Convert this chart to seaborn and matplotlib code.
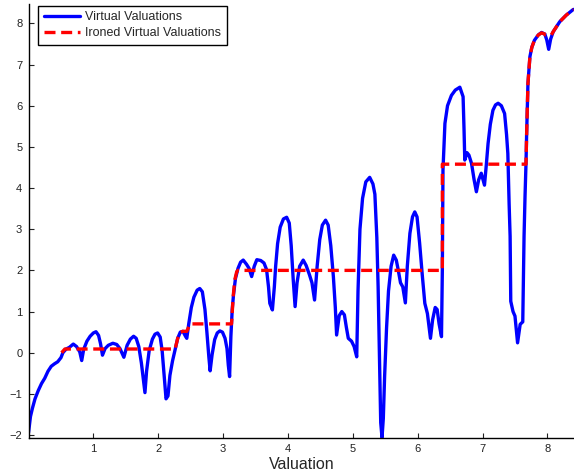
import matplotlib
matplotlib.use('Agg')
import matplotlib.pyplot as plt
import pandas as pd
import seaborn as sns

# virtual valuations (blue)
vv_x = [0.00, 0.03, 0.06, 0.10, 0.15, 0.20, 0.25, 0.30, 0.35, 0.40, 0.45, 0.50, 0.53, 0.58, 0.63,
        0.69, 0.74, 0.79, 0.82, 0.85, 0.90, 0.95, 1.00, 1.04, 1.08, 1.11, 1.14, 1.18, 1.23, 1.30,
        1.36, 1.41, 1.47, 1.52, 1.57, 1.62, 1.66, 1.70, 1.74, 1.77, 1.795, 1.82, 1.86, 1.91, 1.95,
        1.99, 2.03, 2.06, 2.09, 2.12, 2.15, 2.18, 2.22, 2.26, 2.30, 2.34, 2.38, 2.42, 2.44, 2.47,
        2.51, 2.55, 2.60, 2.64, 2.68, 2.72, 2.75, 2.78, 2.80, 2.83, 2.87, 2.91, 2.95, 2.99, 3.03,
        3.06, 3.08, 3.10, 3.12, 3.14, 3.16, 3.19, 3.23, 3.27, 3.31, 3.36, 3.40, 3.44, 3.48, 3.52,
        3.58, 3.63, 3.67, 3.70, 3.72, 3.76, 3.79, 3.81, 3.84, 3.88, 3.93, 3.98, 4.02, 4.05, 4.08,
        4.11, 4.14, 4.18, 4.235, 4.28, 4.33, 4.37, 4.41, 4.45, 4.49, 4.53, 4.58, 4.62, 4.66, 4.70,
        4.73, 4.75, 4.79, 4.83, 4.87, 4.90, 4.93, 4.98, 5.02, 5.06, 5.08, 5.11, 5.15, 5.20, 5.26,
        5.31, 5.34, 5.37, 5.39, 5.41, 5.43, 5.45, 5.47, 5.49, 5.52, 5.55, 5.59, 5.63, 5.67, 5.70,
        5.735, 5.77, 5.81, 5.84, 5.88, 5.92, 5.955, 5.99, 6.03, 6.07, 6.11, 6.15, 6.197, 6.23, 6.27,
        6.30, 6.33, 6.367, 6.38, 6.39, 6.42, 6.46, 6.52, 6.58, 6.65, 6.70, 6.715, 6.726, 6.76, 6.79,
        6.83, 6.87, 6.905, 6.94, 6.98, 7.03, 7.06, 7.085, 7.12, 7.16, 7.20, 7.24, 7.29, 7.34, 7.37,
        7.39, 7.41, 7.425, 7.435, 7.47, 7.50, 7.54, 7.58, 7.62, 7.64, 7.655, 7.67, 7.68, 7.70, 7.73,
        7.76, 7.80, 7.86, 7.91, 7.96, 7.99, 8.02, 8.05, 8.09, 8.19, 8.29, 8.40]
vv_y = [-1.94, -1.55, -1.35, -1.12, -0.92, -0.75, -0.62, -0.45, -0.33, -0.27, -0.22, -0.12, 0.00, 0.09, 0.13,
        0.21, 0.15, 0.02, -0.19, 0.08, 0.28, 0.40, 0.48, 0.51, 0.42, 0.22, -0.06, 0.10, 0.18, 0.23,
        0.20, 0.10, -0.11, 0.18, 0.33, 0.40, 0.35, 0.15, -0.25, -0.65, -0.97, -0.45, 0.05, 0.33, 0.45,
        0.48, 0.38, 0.05, -0.55, -1.12, -1.05, -0.55, -0.20, 0.08, 0.35, 0.50, 0.52, 0.40, 0.35, 0.70,
        1.10, 1.35, 1.52, 1.56, 1.48, 1.05, 0.50, -0.10, -0.44, -0.05, 0.32, 0.48, 0.53, 0.50, 0.35,
        0.10, -0.30, -0.58, 0.40, 1.04, 1.40, 1.80, 2.05, 2.20, 2.25, 2.15, 2.05, 1.85, 2.10, 2.26,
        2.24, 2.18, 2.02, 1.60, 1.20, 1.04, 1.60, 2.10, 2.65, 3.05, 3.25, 3.29, 3.15, 2.60, 1.80,
        1.12, 1.70, 2.10, 2.25, 2.12, 1.90, 1.70, 1.28, 2.10, 2.75, 3.10, 3.22, 3.10, 2.60, 1.85,
        1.10, 0.43, 0.90, 1.00, 0.92, 0.62, 0.35, 0.28, 0.15, -0.10, 1.50, 3.00, 3.75, 4.15, 4.26,
        4.10, 3.85, 2.80, 1.60, 0.00, -1.70, -2.06, -1.60, -0.58, 0.60, 1.50, 2.10, 2.37, 2.25, 2.01,
        1.70, 1.60, 1.21, 2.10, 2.90, 3.30, 3.42, 3.30, 2.66, 1.90, 1.20, 0.95, 0.35, 0.80, 1.10,
        1.05, 0.70, 0.39, 2.00, 4.44, 5.57, 6.00, 6.25, 6.38, 6.45, 6.22, 5.40, 4.68, 4.86, 4.80,
        4.60, 4.20, 3.91, 4.20, 4.36, 4.07, 4.60, 5.08, 5.55, 5.89, 6.02, 6.06, 6.00, 5.81, 5.30,
        4.84, 3.60, 2.83, 1.25, 1.00, 0.89, 0.24, 0.69, 0.75, 2.83, 3.80, 4.60, 5.33, 6.54, 7.19,
        7.42, 7.59, 7.72, 7.78, 7.74, 7.60, 7.37, 7.62, 7.80, 8.04, 8.20, 8.34]

# ironed virtual valuations (red dashed)
iv_x = [0.51, 0.56, 2.26, 2.30, 2.34, 2.38, 2.44, 2.49, 3.13, 3.155, 3.18, 3.21, 3.23, 6.38, 6.38,
        7.67, 7.68, 7.70, 7.73, 7.76, 7.80, 7.86, 7.91, 7.96, 7.97, 8.06, 8.09, 8.19, 8.29, 8.40]
iv_y = [0.00, 0.09, 0.09, 0.35, 0.50, 0.52, 0.52, 0.70, 0.70, 1.36, 1.77, 1.97, 2.00, 2.00, 4.58,
        4.58, 5.33, 6.54, 7.19, 7.42, 7.59, 7.72, 7.77, 7.74, 7.72, 7.72, 7.80, 8.04, 8.20, 8.34]

sns.set_style('ticks')
plt.rcParams['font.family'] = ['Liberation Sans', 'DejaVu Sans']

fig = plt.figure(figsize=(5.74, 4.76), dpi=100)
ax = fig.add_axes([0.0497, 0.0805, 0.9503, 0.911])

vv = pd.DataFrame({'x': vv_x, 'y': vv_y})
iv = pd.DataFrame({'x': iv_x, 'y': iv_y})
sns.lineplot(data=vv, x='x', y='y', color='#0000ff', linewidth=2.4, estimator=None, sort=False,
             label='Virtual Valuations', ax=ax)
sns.lineplot(data=iv, x='x', y='y', color='#ff0000', linewidth=2.4, estimator=None, sort=False,
             linestyle=(0, (3.3, 1.7)), label='Ironed Virtual Valuations', ax=ax)

ax.set_xlim(0, 8.41)
ax.set_ylim(-2.064, 8.47)
ax.set_xticks(range(1, 9))
ax.set_yticks(range(-2, 9))
ax.tick_params(direction='in', length=3.5, width=0.8, labelsize=8, pad=4.5, colors='#222222')
for s in ['top', 'right']:
    ax.spines[s].set_visible(False)
for s in ['left', 'bottom']:
    ax.spines[s].set_linewidth(1.0)
    ax.spines[s].set_color('black')
ax.set_xlabel('Valuation', fontsize=11.5, labelpad=2)
ax.set_ylabel('')

leg = ax.legend(loc='upper left', bbox_to_anchor=(0.0174, 0.996), borderaxespad=0, fontsize=9,
                frameon=True, fancybox=False, framealpha=1, edgecolor='black',
                handlelength=2.9, handletextpad=0.4, labelspacing=0.3, borderpad=0.45)
leg.get_frame().set_linewidth(1.0)

fig.savefig('out.png', dpi=100)
